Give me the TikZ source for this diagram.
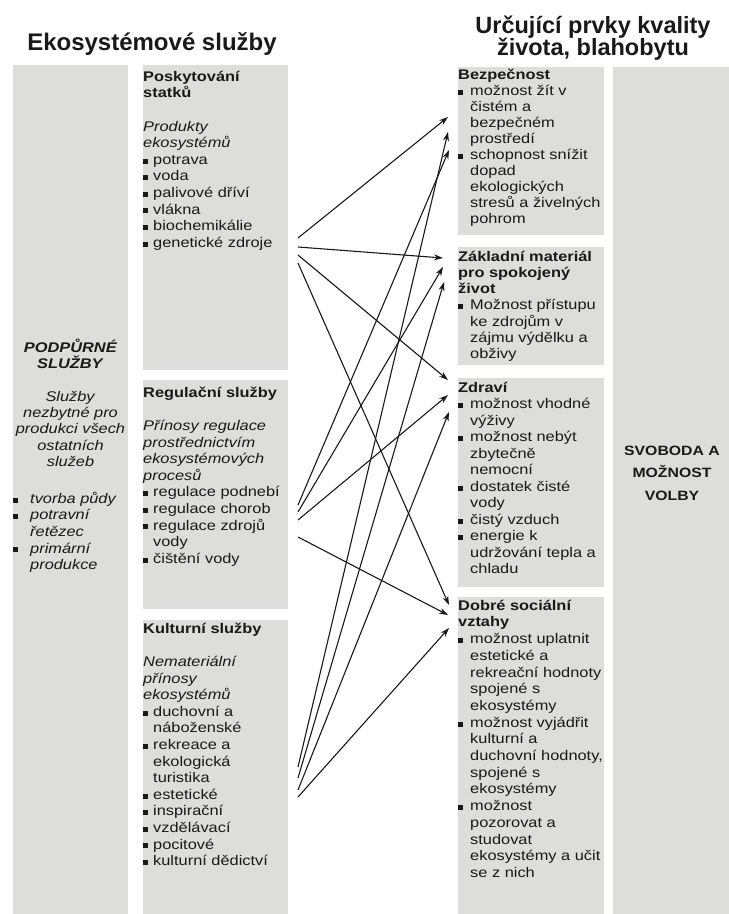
\documentclass[tikz,border=0pt]{standalone}
\usepackage{fontspec}
\setmainfont{Liberation Sans}[FakeStretch=1.17]
\newfontfamily\titlefont{Liberation Sans}
\usetikzlibrary{arrows.meta}
\definecolor{boxgray}{RGB}{221,221,219}
\definecolor{ink}{RGB}{25,25,25}
\newcommand{\bx}[1]{\makebox[#1][l]{\rule[0.6pt]{5pt}{5pt}}}
\newcommand{\ix}[1]{\hspace*{#1}}
\newcommand{\tst}{\rule{0pt}{14pt}}
\begin{document}
\begin{tikzpicture}[x=1pt,y=-1pt,
  panel/.style={fill=boxgray},
  body/.style={inner sep=0pt, anchor=north west, align=left, text=ink, font=\fontsize{14}{16.6}\selectfont},
  cbody/.style={inner sep=0pt, anchor=north, align=center, text=ink, font=\fontsize{14}{16.3}\selectfont},
  ttl/.style={inner sep=0pt, anchor=base, text=ink, font=\titlefont\bfseries\fontsize{23.5}{22}\selectfont},
  frt/.style={inner sep=0pt, anchor=base, text=ink, font=\bfseries\fontsize{13.5}{22.5}\selectfont},
  arr/.style={line width=1.1pt, draw=ink, -{Stealth[length=9pt,width=6pt]}}]
\fill[white] (0,0) rectangle (729,914);
\useasboundingbox (0,0) rectangle (729,914);
% panels
\fill[panel] (13,65) rectangle (128,914);
\fill[panel] (143,65) rectangle (288,370);
\fill[panel] (143,380) rectangle (288,609);
\fill[panel] (143,620) rectangle (288,914);
\fill[panel] (458,67) rectangle (604,235);
\fill[panel] (458,247) rectangle (604,365);
\fill[panel] (458,378) rectangle (604,587);
\fill[panel] (458,597) rectangle (604,914);
\fill[panel] (613,67) rectangle (729,914);
% titles
\node[ttl, font=\titlefont\bfseries\fontsize{24}{22}\selectfont] (t1) at (152,50) {Ekosystémové služby};
\node[ttl] (t2a) at (593,33) {Určující prvky kvality};
\node[ttl] (t2b) at (593,55) {života, blahobytu};
% left column
\node[cbody] (sup) at (70.5,338) {\tst\textbf{\textit{PODPŮRNÉ}}\\ \textbf{\textit{SLUŽBY}}\\[16.3pt]
  \textit{Služby}\\ \textit{nezbytné pro}\\ \textit{produkci všech}\\ \textit{ostatních}\\ \textit{služeb}};
\node[body] (supl) at (13,489) {\tst\bx{17pt}\textit{tvorba půdy}\\ \bx{17pt}\textit{potravní}\\ \ix{17pt}\textit{řetězec}\\
  \bx{17pt}\textit{primární}\\ \ix{17pt}\textit{produkce}};
% middle column
\node[body] (prov) at (143,67) {\tst\textbf{Poskytování}\\ \textbf{statků}\\[16.6pt]
  \textit{Produkty}\\ \textit{ekosystémů}\\ \bx{10pt}potrava\\ \bx{10pt}voda\\ \bx{10pt}palivové dříví\\
  \bx{10pt}vlákna\\ \bx{10pt}biochemikálie\\ \bx{10pt}genetické zdroje};
\node[body] (reg) at (143,383) {\tst\textbf{Regulační služby}\\[16.6pt]
  \textit{Přínosy regulace}\\ \textit{prostřednictvím}\\ \textit{ekosystémových}\\ \textit{procesů}\\
  \bx{10pt}regulace podnebí\\ \bx{10pt}regulace chorob\\ \bx{10pt}regulace zdrojů\\ \ix{10pt}vody\\ \bx{10pt}čištění vody};
\node[body] (cult) at (143,619) {\tst\textbf{Kulturní služby}\\[16.6pt]
  \textit{Nemateriální}\\ \textit{přínosy}\\ \textit{ekosystémů}\\ \bx{10pt}duchovní a\\ \ix{10pt}náboženské\\
  \bx{10pt}rekreace a\\ \ix{10pt}ekologická\\ \ix{10pt}turistika\\ \bx{10pt}estetické\\ \bx{10pt}inspirační\\
  \bx{10pt}vzdělávací\\ \bx{10pt}pocitové\\ \bx{10pt}kulturní dědictví};
% right column
\node[body, font=\fontsize{14}{16}\selectfont] (sec) at (458,65) {\tst\textbf{Bezpečnost}\\
  \bx{12pt}možnost žít v\\ \ix{12pt}čistém a\\ \ix{12pt}bezpečném\\ \ix{12pt}prostředí\\
  \bx{12pt}schopnost snížit\\ \ix{12pt}dopad\\ \ix{12pt}ekologických\\ \ix{12pt}stresů a živelných\\ \ix{12pt}pohrom};
\node[body, font=\fontsize{14}{16.2}\selectfont] (mat) at (458,247) {\tst\textbf{Základní materiál}\\ \textbf{pro spokojený}\\ \textbf{život}\\
  \bx{12pt}Možnost přístupu\\ \ix{12pt}ke zdrojům v\\ \ix{12pt}zájmu výdělku a\\ \ix{12pt}obživy};
\node[body, font=\fontsize{14}{16.5}\selectfont] (hea) at (458,378) {\tst\textbf{Zdraví}\\
  \bx{12pt}možnost vhodné\\ \ix{12pt}výživy\\ \bx{12pt}možnost nebýt\\ \ix{12pt}zbytečně\\ \ix{12pt}nemocní\\
  \bx{12pt}dostatek čisté\\ \ix{12pt}vody\\ \bx{12pt}čistý vzduch\\ \bx{12pt}energie k\\ \ix{12pt}udržování tepla a\\ \ix{12pt}chladu};
\node[body, font=\fontsize{14}{16.7}\selectfont] (soc) at (458,596) {\tst\textbf{Dobré sociální}\\ \textbf{vztahy}\\
  \bx{12pt}možnost uplatnit\\ \ix{12pt}estetické a\\ \ix{12pt}rekreační hodnoty\\ \ix{12pt}spojené s\\ \ix{12pt}ekosystémy\\
  \bx{12pt}možnost vyjádřit\\ \ix{12pt}kulturní a\\ \ix{12pt}duchovní hodnoty,\\ \ix{12pt}spojené s\\ \ix{12pt}ekosystémy\\
  \bx{12pt}možnost\\ \ix{12pt}pozorovat a\\ \ix{12pt}studovat\\ \ix{12pt}ekosystémy a učit\\ \ix{12pt}se z nich};
% far right
\node[frt] (fr1) at (672,455) {SVOBODA A};
\node[frt] (fr2) at (672,477.5) {MOŽNOST};
\node[frt] (fr3) at (672,500) {VOLBY};
% arrow end points
\coordinate (p1) at (298,238); \coordinate (p2) at (298,247); \coordinate (p3) at (298,255); \coordinate (p4) at (298,263);
\coordinate (r1) at (298,505); \coordinate (r2) at (298,512); \coordinate (r3) at (298,520); \coordinate (r4) at (298,537);
\coordinate (c1) at (298,767); \coordinate (c2) at (298,778); \coordinate (c3) at (298,790); \coordinate (c4) at (298,797);
\coordinate (b1) at (448,117); \coordinate (b2) at (448,132); \coordinate (b3) at (449,150);
\coordinate (z1) at (443,258); \coordinate (z2) at (443,267); \coordinate (z3) at (444,282);
\coordinate (h1) at (448,380); \coordinate (h2) at (448,395); \coordinate (h3) at (449,412);
\coordinate (d1) at (449,605); \coordinate (d2) at (448,615); \coordinate (d3) at (449,628);
\draw[arr] (p1) -- (b1); \draw[arr] (p2) -- (z1); \draw[arr] (p3) -- (h1); \draw[arr] (p4) -- (d1);
\draw[arr] (r1) -- (b3); \draw[arr] (r2) -- (z2); \draw[arr] (r3) -- (h2); \draw[arr] (r4) -- (d2);
\draw[arr] (c1) -- (b2); \draw[arr] (c2) -- (z3); \draw[arr] (c3) -- (h3); \draw[arr] (c4) -- (d3);
\end{tikzpicture}
\end{document}
